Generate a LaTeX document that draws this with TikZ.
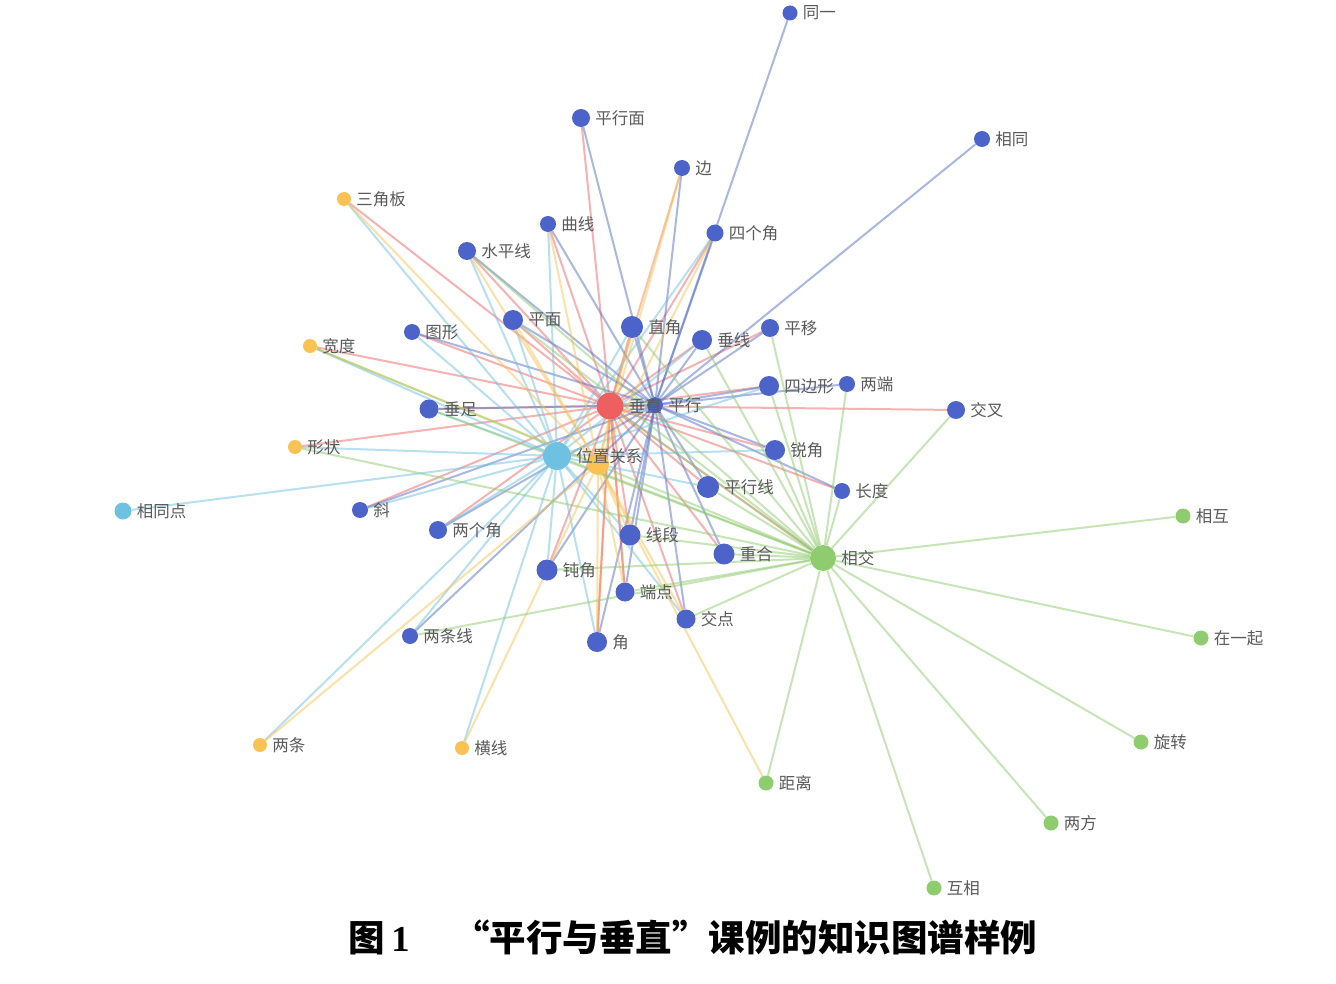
\documentclass[tikz,border=0pt]{standalone}
\usepackage{fontspec}
\newfontfamily\cjk{Noto Sans CJK SC}
\newfontfamily\serifnum{Liberation Serif}
\usetikzlibrary{backgrounds}
\definecolor{nb}{HTML}{4C63C9}
\definecolor{nr}{HTML}{EE5F5F}
\definecolor{nl}{HTML}{6EC1E0}
\definecolor{ny}{HTML}{F9C253}
\definecolor{ng}{HTML}{8FCB6F}
\definecolor{eb}{HTML}{5470C6}
\definecolor{er}{HTML}{EE6666}
\definecolor{eo}{HTML}{FC8452}
\definecolor{lbgray}{HTML}{5A5A5A}
\begin{document}
\begin{tikzpicture}[x=1pt,y=-1pt,
  nd/.style={circle, inner sep=0pt, draw=none},
  lb/.style={font=\cjk\fontsize{16.5}{16.5}\selectfont, text=lbgray, inner sep=1pt},
  every label/.style={lb},
  label distance=4pt,
  B/.style={nd, fill=nb, minimum size=#1},
  Y/.style={nd, fill=ny, minimum size=14},
  G/.style={nd, fill=ng, minimum size=15},
  ed/.style={line width=2pt, opacity=0.5},
  eR/.style={ed, draw=er},
  eO/.style={ed, draw=eo},
  eB/.style={ed, draw=eb},
  eL/.style={ed, draw=nl},
  eY/.style={ed, draw=ny},
  eG/.style={ed, draw=ng}]
\useasboundingbox (0,0) rectangle (1336,984);
% hubs (平行 and the yellow hub first, so that the labels of 垂直 and 位置关系 lie over them)
\node[nd, fill=nb, minimum size=16, label={right:平行}] (pingxing) at (655,405) {};
\node[nd, fill=ny, minimum size=22] (yhub) at (598,464) {};
\node[nd, fill=nr, minimum size=27, label={right:垂直}] (chuizhi) at (610,406) {};
\node[nd, fill=nl, minimum size=28, label={right:位置关系}] (wzgx) at (557,456) {};
\node[nd, fill=ng, minimum size=26, label={right:相交}] (xj) at (823,558) {};
% blue
\node[B=15, label={right:同一}] (tongyi) at (790,13) {};
\node[B=18, label={right:平行面}] (pxm) at (581,118) {};
\node[B=16, label={right:边}] (bian) at (682,168) {};
\node[B=16, label={right:相同}] (xt) at (982,139) {};
\node[B=16, label={right:曲线}] (qx) at (548,224) {};
\node[B=17, label={right:四个角}] (sgj) at (715,233) {};
\node[B=18, label={right:水平线}] (spx) at (467,251) {};
\node[B=20, label={right:平面}] (pm) at (513,320) {};
\node[B=16, label={right:图形}] (tx) at (412,332) {};
\node[B=22, label={right:直角}] (zj) at (632,327) {};
\node[B=20, label={right:垂线}] (cxian) at (702,340) {};
\node[B=18, label={right:平移}] (pyi) at (770,328) {};
\node[B=20, label={right:四边形}] (sbx) at (769,386) {};
\node[B=16, label={right:两端}] (ld) at (847,384) {};
\node[B=19, label={right:垂足}] (czu) at (429,409) {};
\node[B=18, label={right:交叉}] (jc) at (956,410) {};
\node[B=20, label={right:锐角}] (rj) at (775,450) {};
\node[B=22, label={right:平行线}] (pxx) at (708,487) {};
\node[B=16, label={right:长度}] (cd) at (842,491) {};
\node[B=16, label={right:斜}] (xie) at (360,510) {};
\node[B=18, label={right:两个角}] (lgj) at (438,530) {};
\node[B=21, label={right:线段}] (xd) at (630,535) {};
\node[B=21, label={right:重合}] (ch) at (724,554) {};
\node[B=21, label={right:钝角}] (dj) at (547,570) {};
\node[B=19, label={right:端点}] (dd) at (625,592) {};
\node[B=19, label={right:交点}] (jd) at (686,619) {};
\node[B=16, label={right:两条线}] (ltx) at (410,636) {};
\node[B=20, label={right:角}] (jiao) at (597,642) {};
% yellow
\node[Y, label={right:三角板}] (sjb) at (344,199) {};
\node[Y, label={right:宽度}] (kd) at (310,346) {};
\node[Y, label={right:形状}] (xz) at (295,447) {};
\node[Y, label={right:两条}] (lt) at (260,745) {};
\node[Y, label={right:横线}] (hx) at (462,748) {};
% light blue
\node[nd, fill=nl, minimum size=17, label={right:相同点}] (xtd) at (123,511) {};
% green
\node[G, label={right:相互}] (xh) at (1183,516) {};
\node[G, label={right:在一起}] (zyq) at (1201,638) {};
\node[G, label={right:旋转}] (xzh) at (1141,742) {};
\node[G, label={right:两方}] (lf) at (1051,823) {};
\node[G, label={right:互相}] (hxg) at (934,888) {};
\node[G, label={right:距离}] (jl) at (766,783) {};
% caption
\node[font=\cjk\bfseries\fontsize{36.5}{36.5}\selectfont, text=black, inner sep=0pt] (cap) at (693,937) {图\,{\serifnum\bfseries 1}\hspace{1.2em}“平行与垂直”课例的知识图谱样例};
% edges
\begin{scope}[on background layer]
\fill[white] (0,0) rectangle (1336,984);
\foreach \t in {pxm,qx,spx,sjb,tx,pm,zj,cxian,sgj,pyi,sbx,jc,czu,kd,xz,rj,cd,xie,lgj,xd,ch,dj,dd,jd,jiao,pxx,xj}
  \draw[eR] (chuizhi) -- (\t);
\draw[eO] (chuizhi) -- (bian);
\draw[eO] (chuizhi) -- (jiao);
\draw[eO] (chuizhi) -- (dd);
\foreach \t in {tongyi,xt,pxm,bian,qx,spx,tx,pm,zj,cxian,sgj,pyi,sbx,ld,rj,cd,xie,lgj,xd,ch,dj,dd,jd,jiao,czu,pxx,ltx}
  \draw[eB] (pingxing) -- (\t);
\foreach \t in {xtd,sjb,spx,qx,tx,pm,zj,cxian,sgj,ltx,hx,lt,xd,jiao,dj,jd,rj,pxx,lgj,xz,kd,sbx,czu,xie}
  \draw[eL] (wzgx) -- (\t);
\foreach \t in {sjb,kd,lt,hx,jl,spx,qx,bian,zj,sgj,xd,jiao,dd,pm,jd}
  \draw[eY] (yhub) -- (\t);
\foreach \t in {xh,zyq,xzh,lf,hxg,jl,jc,ld,pyi,cd,ch,rj,pxx,sbx,dj,dd,jd,xd,ltx,kd,xz,pm,spx,zj,cxian,czu,chuizhi,wzgx}
  \draw[eG] (xj) -- (\t);
\end{scope}
\end{tikzpicture}
\end{document}
